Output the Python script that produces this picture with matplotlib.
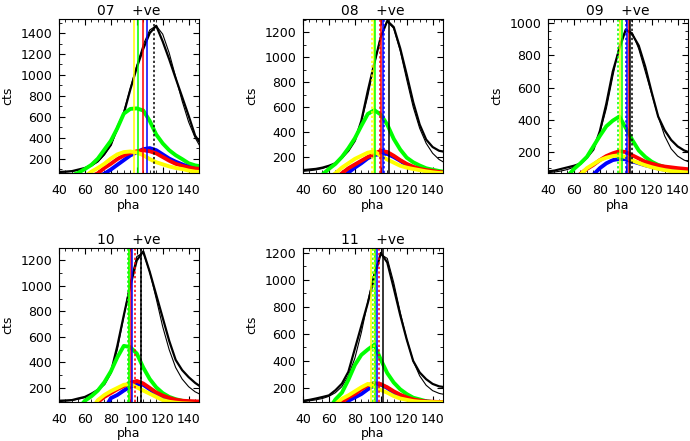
import numpy as np
import matplotlib.pyplot as plt
from matplotlib.ticker import MultipleLocator

# pha bin centres (sampled every 5 channels)
pha = np.arange(40, 151, 5)

panels = ['07', '08', '09', '10', '11']
ylims = [(62, 1535), (72, 1305), (70, 1025), (90, 1297), (96, 1237)]
yticks = [[200, 400, 600, 800, 1000, 1200, 1400],
          [200, 400, 600, 800, 1000, 1200],
          [200, 400, 600, 800, 1000],
          [200, 400, 600, 800, 1000, 1200],
          [200, 400, 600, 800, 1000, 1200]]

# total counts histogram (black, thick) and fitted model (black, thin)
black = [
    [72, 75, 80, 95, 110, 135, 175, 245, 330, 500, 630, 860, 1070, 1250, 1400, 1470, 1320, 1150, 968, 790, 610, 420, 330],
    [95, 100, 105, 115, 130, 150, 195, 250, 330, 490, 730, 950, 1160, 1290, 1240, 1070, 860, 640, 460, 340, 280, 250, 240],
    [80, 85, 95, 105, 115, 128, 165, 215, 330, 500, 700, 840, 960, 930, 860, 730, 570, 420, 335, 275, 235, 210, 195],
    [100, 102, 105, 118, 130, 155, 185, 230, 320, 530, 770, 1000, 1200, 1270, 1110, 930, 750, 570, 420, 340, 285, 240, 205],
    [105, 112, 122, 133, 145, 183, 232, 320, 490, 660, 830, 1020, 1200, 1130, 940, 740, 560, 400, 315, 265, 230, 212, 205],
]
fit = [
    [70, 72, 78, 88, 105, 130, 170, 235, 330, 470, 650, 870, 1090, 1290, 1430, 1470, 1390, 1210, 980, 750, 550, 400, 290],
    [85, 90, 97, 108, 125, 150, 190, 250, 340, 480, 690, 940, 1170, 1285, 1230, 1050, 820, 600, 430, 310, 230, 180, 150],
    [72, 76, 82, 92, 106, 128, 165, 225, 320, 470, 670, 860, 960, 940, 840, 700, 560, 420, 300, 220, 175, 150, 135],
    [95, 98, 103, 112, 125, 145, 180, 235, 330, 500, 760, 1030, 1230, 1260, 1110, 900, 680, 500, 360, 270, 210, 170, 145],
    [100, 105, 112, 122, 138, 165, 210, 290, 420, 610, 840, 1060, 1190, 1160, 980, 760, 560, 400, 290, 220, 180, 160, 150],
]
green = [
    [40, 40, 40, 65, 100, 140, 200, 285, 370, 490, 630, 675, 680, 660, 560, 430, 345, 280, 232, 195, 155, 135, 125],
    [40, 40, 40, 60, 105, 145, 200, 270, 350, 450, 545, 575, 540, 460, 345, 260, 195, 158, 132, 110, 98, 88, 80],
    [30, 30, 30, 50, 95, 130, 170, 235, 300, 360, 395, 420, 350, 275, 210, 170, 140, 120, 107, 95, 88, 80, 75],
    [40, 40, 40, 40, 100, 135, 180, 245, 330, 440, 530, 520, 470, 360, 270, 205, 160, 130, 112, 100, 92, 88, 85],
    [40, 40, 40, 40, 40, 115, 165, 260, 370, 445, 485, 520, 410, 310, 240, 190, 155, 128, 115, 102, 96, 92, 90],
]
blue = [
    [30, 30, 30, 30, 30, 30, 30, 55, 95, 140, 185, 230, 260, 290, 300, 280, 240, 200, 170, 145, 120, 100, 90],
    [30, 30, 30, 30, 30, 30, 30, 75, 115, 150, 190, 215, 225, 225, 200, 170, 135, 115, 100, 88, 78, 72, 68],
    [30, 30, 30, 30, 30, 30, 30, 60, 100, 130, 150, 158, 155, 142, 130, 118, 108, 98, 90, 85, 80, 75, 72],
    [30, 30, 30, 30, 30, 30, 30, 30, 120, 145, 180, 210, 228, 225, 190, 150, 120, 100, 92, 88, 85, 83, 80],
    [30, 30, 30, 30, 30, 30, 30, 105, 130, 155, 190, 220, 225, 200, 165, 138, 120, 110, 102, 98, 96, 95, 94],
]
red = [
    [30, 30, 30, 30, 30, 30, 60, 110, 150, 195, 230, 255, 270, 280, 270, 250, 215, 180, 150, 130, 115, 105, 100],
    [30, 30, 30, 30, 30, 30, 70, 110, 140, 170, 200, 225, 250, 240, 210, 175, 145, 122, 105, 95, 88, 80, 75],
    [30, 30, 30, 30, 30, 65, 95, 120, 150, 175, 192, 205, 200, 180, 160, 140, 128, 117, 110, 105, 100, 96, 92],
    [30, 30, 30, 30, 30, 30, 90, 130, 160, 190, 215, 240, 255, 235, 200, 165, 140, 122, 108, 100, 97, 95, 93],
    [30, 30, 30, 30, 30, 30, 95, 130, 155, 190, 220, 235, 228, 205, 175, 150, 130, 115, 106, 100, 98, 96, 95],
]
yellow = [
    [30, 30, 30, 30, 30, 75, 110, 150, 200, 240, 262, 268, 258, 232, 195, 165, 145, 125, 110, 100, 85, 75, 70],
    [30, 30, 30, 30, 30, 70, 115, 150, 185, 210, 235, 245, 210, 180, 155, 130, 115, 104, 95, 85, 78, 72, 70],
    [30, 30, 30, 30, 30, 60, 100, 125, 150, 165, 175, 180, 168, 148, 132, 118, 106, 96, 88, 82, 78, 75, 72],
    [30, 30, 30, 30, 30, 30, 105, 145, 175, 200, 225, 230, 205, 180, 155, 130, 105, 92, 85, 80, 78, 75, 72],
    [30, 30, 30, 30, 30, 80, 120, 145, 175, 205, 230, 212, 185, 165, 140, 122, 112, 103, 98, 96, 95, 94, 93],
]

# marker lines (solid / dotted) for each colour
solid_lines = [
    {'yellow': 97.7, 'lime': 100.8, 'red': 104.6, 'blue': 107.7},
    {'yellow': 94.4, 'lime': 95.4, 'red': 100.0, 'blue': 101.9, 'black': 106.5},
    {'yellow': 95.5, 'lime': 97.0, 'blue': 101.2, 'red': 102.5, 'black': 103.3},
    {'yellow': 94.1, 'lime': 93.8, 'red': 95.2, 'blue': 96.5, 'black': 103.6},
    {'yellow': 92.8, 'lime': 95.8, 'blue': 97.2, 'black': 101.8},
]
dotted_lines = [
    {'black': 113.1},
    {'yellow': 93.6, 'red': 99.3, 'blue': 102.6},
    {'lime': 94.1, 'blue': 100.5, 'black': 105.1},
    {'lime': 93.4, 'red': 98.8, 'black': 103.6},
    {'lime': 93.8, 'yellow': 95.1, 'red': 98.5},
]

W, H = 690, 441
fig = plt.figure(figsize=(W / 100, H / 100), dpi=100)
plt.rcParams['font.family'] = 'DejaVu Sans'

lefts = [59, 303, 548, 59, 303]
tops = [19, 19, 19, 248, 248]
aw, ah = 140, 154

for i in range(5):
    ax = fig.add_axes([lefts[i] / W, 1 - (tops[i] + ah) / H, aw / W, ah / H])
    ax.plot(pha, black[i], color='black', lw=1.6)
    ax.plot(pha, fit[i], color='black', lw=0.8)
    ax.plot(pha, green[i], color='lime', lw=2.8)
    ax.plot(pha, blue[i], color='blue', lw=2.8)
    ax.plot(pha, red[i], color='red', lw=2.8)
    ax.plot(pha, yellow[i], color='yellow', lw=2.8)
    for c, x in solid_lines[i].items():
        ax.axvline(x, color=c, lw=1.1)
    for c, x in dotted_lines[i].items():
        ax.axvline(x, color=c, lw=1.1, ls=(0, (1.5, 1.5)))

    ax.set_xlim(40, 148)
    ax.set_ylim(*ylims[i])
    ax.set_xticks([40, 60, 80, 100, 120, 140])
    ax.set_yticks(yticks[i])
    ax.xaxis.set_minor_locator(MultipleLocator(5))
    ax.yaxis.set_minor_locator(MultipleLocator(50 if ylims[i][1] < 1100 else 100))
    ax.tick_params(which='both', direction='in', top=True, right=True, labelsize=9)
    ax.tick_params(which='major', length=4, width=0.8, pad=5)
    ax.tick_params(axis='x', which='major', pad=8)
    ax.tick_params(which='minor', length=2, width=0.6)
    for s in ax.spines.values():
        s.set_linewidth(0.8)
    ax.set_xlabel('pha', fontsize=9, labelpad=1)
    ax.set_ylabel('cts', fontsize=9)
    ax.yaxis.set_label_coords(-0.32, 0.5)
    ax.set_title(panels[i] + '    +ve', fontsize=10, pad=3)

fig.savefig('out.png', dpi=100)
